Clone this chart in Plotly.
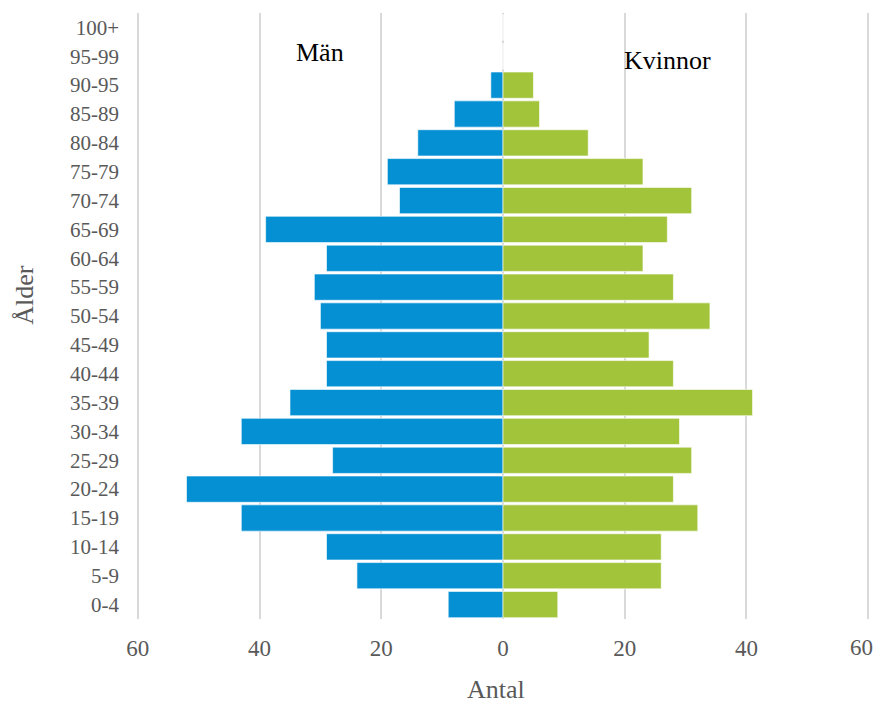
import plotly.graph_objects as go

age_groups = ["0-4", "5-9", "10-14", "15-19", "20-24", "25-29", "30-34", "35-39",
              "40-44", "45-49", "50-54", "55-59", "60-64", "65-69", "70-74", "75-79",
              "80-84", "85-89", "90-95", "95-99", "100+"]
men = [9, 24, 29, 43, 52, 28, 43, 35, 29, 29, 30, 31, 29, 39, 17, 19, 14, 8, 2, 0, 0]
women = [9, 26, 26, 32, 28, 31, 29, 41, 28, 24, 34, 28, 23, 27, 31, 23, 14, 6, 5, 0, 0]
tick_vals = [-60, -40, -20, 0, 20, 40, 60]
tick_text = ["60", "40", "20", "0", "20", "40", ""]
right_edge_label = "60"

FONT = "Liberation Serif, Times New Roman, serif"
GREY = "#595959"

fig = go.Figure()
fig.add_trace(go.Bar(y=age_groups, x=[-v for v in men], orientation="h", name="Män",
                     marker=dict(color="#0590D4", line=dict(color="rgba(255,255,255,0.6)", width=1))))
fig.add_trace(go.Bar(y=age_groups, x=women, orientation="h", name="Kvinnor",
                     marker=dict(color="#A2C43B", line=dict(color="rgba(255,255,255,0.6)", width=1))))

# page has an 8px body margin; figure is offset by 8px
fig.update_layout(
    width=876, height=696,
    barmode="relative", bargap=0.09,
    plot_bgcolor="white", paper_bgcolor="white",
    showlegend=False,
    margin=dict(l=128, r=14, t=5, b=85, autoexpand=False),
    font=dict(family=FONT, color=GREY),
    xaxis=dict(range=[-60.3, 60.3], tickvals=tick_vals, ticktext=tick_text,
               showgrid=True, gridcolor="#D9D9D9", gridwidth=2, zeroline=False,
               showline=False, ticks="", tickfont=dict(size=23, color=GREY),
               ticklabelstandoff=13, automargin=False),
    yaxis=dict(showgrid=False, zeroline=False, showline=False, ticks="",
               tickfont=dict(size=21, color=GREY), ticklabelstandoff=16, automargin=False),
    annotations=[
        dict(x=-30.1, y=0.934, text="Män", showarrow=False, xref="x", yref="paper",
             xanchor="center", yanchor="middle",
             font=dict(size=26, color="black", family=FONT)),
        dict(x=27.0, y=0.922, text="Kvinnor", showarrow=False, xref="x", yref="paper",
             xanchor="center", yanchor="middle",
             font=dict(size=26, color="black", family=FONT)),
        dict(x=-0.1516, y=0.5347, text="Ålder", showarrow=False, xref="paper", yref="paper",
             xanchor="center", yanchor="middle",
             textangle=-90, font=dict(size=26, color=GREY, family=FONT)),
        dict(x=0.4905, y=-0.117, text="Antal", showarrow=False, xref="paper", yref="paper",
             xanchor="center", yanchor="middle",
             font=dict(size=26, color=GREY, family=FONT)),
        dict(x=1, y=-0.0475, text=right_edge_label, showarrow=False, xref="paper", yref="paper",
             xanchor="right", yanchor="middle", xshift=5,
             font=dict(size=23, color=GREY, family=FONT)),
    ],
)

fig.write_html("out.html")
